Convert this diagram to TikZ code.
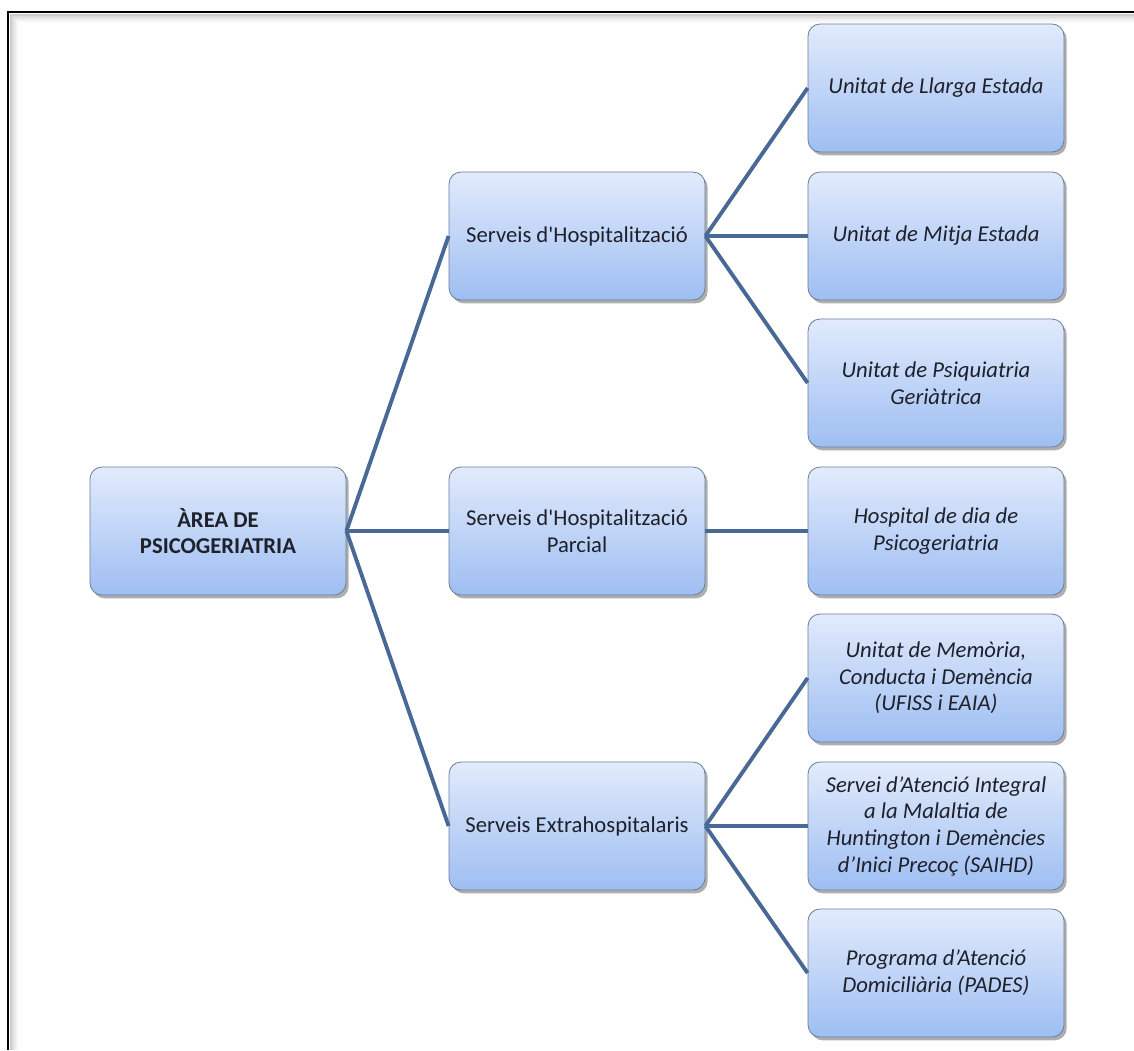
\documentclass[tikz,border=0pt]{standalone}
\usepackage{fontspec}
\setmainfont{Carlito}
\usetikzlibrary{shadows}

\definecolor{boxtop}{RGB}{226,235,252}
\definecolor{boxbot}{RGB}{158,190,242}
\definecolor{boxline}{RGB}{105,125,155}
\definecolor{linkcol}{RGB}{72,104,150}
\definecolor{txtcol}{RGB}{30,32,42}

\tikzset{
    unitbox/.style={rectangle, rounded corners=9pt, draw=boxline, line width=0.6pt,
        top color=boxtop, bottom color=boxbot, minimum width=192pt, minimum height=96pt,
        align=center, text=txtcol, font=\fontsize{17}{20}\selectfont,
        drop shadow={shadow xshift=2pt, shadow yshift=-2.5pt, opacity=0.45, fill=black!70}},
    link/.style={draw=linkcol, line width=2.9pt}
}

\begin{document}
\begin{tikzpicture}[x=0.75pt, y=-0.75pt]
    \useasboundingbox (0,0) rectangle (1134,1050);

    % frame
    \foreach \d/\g in {8/4,6/8,4/13,2/20}
        \draw[black!\g, line width=2pt] (9+\d,1050) -- (9+\d,13+\d) -- (1134,13+\d);
    \draw[black, line width=1.6pt] (8,1050) -- (8,12) -- (1134,12);

    \begin{scope}[every node/.style={unitbox, font=\fontsize{17}{20}\selectfont\bfseries}]
        \node (area) at (218,531) {ÀREA DE\\PSICOGERIATRIA};
    \end{scope}

    \begin{scope}[every node/.style={unitbox}]
        \node (hosp)  at (577,236) {Serveis d\textquotesingle Hospitalització};
        \node (parc)  at (577,531) {Serveis d\textquotesingle Hospitalització\\Parcial};
        \node (extra) at (577,826) {Serveis Extrahospitalaris};
    \end{scope}

    \begin{scope}[every node/.style={unitbox, font=\fontsize{17}{20}\selectfont\itshape}]
        \node (llarga) at (936,88)  {Unitat de Llarga Estada};
        \node (mitja)  at (936,236) {Unitat de Mitja Estada};
        \node (psiq)   at (936,383) {Unitat de Psiquiatria\\Geriàtrica};
        \node (dia)    at (936,531) {Hospital de dia de\\Psicogeriatria};
        \node (memo)   at (936,678) {Unitat de Memòria,\\Conducta i Demència\\(UFISS i EAIA)};
        \node (saihd)  at (936,826) {Servei d’Atenció Integral\\a la Malaltia de\\Huntington i Demències\\d’Inici Precoç (SAIHD)};
        \node (pades)  at (936,973) {Programa d’Atenció\\Domiciliària (PADES)};
    \end{scope}

    \foreach \m in {hosp,parc,extra}
        \draw[link] (area.east) -- (\m.west);
    \foreach \r in {llarga,mitja,psiq}
        \draw[link] (hosp.east) -- (\r.west);
    \draw[link] (parc.east) -- (dia.west);
    \foreach \r in {memo,saihd,pades}
        \draw[link] (extra.east) -- (\r.west);
\end{tikzpicture}
\end{document}
